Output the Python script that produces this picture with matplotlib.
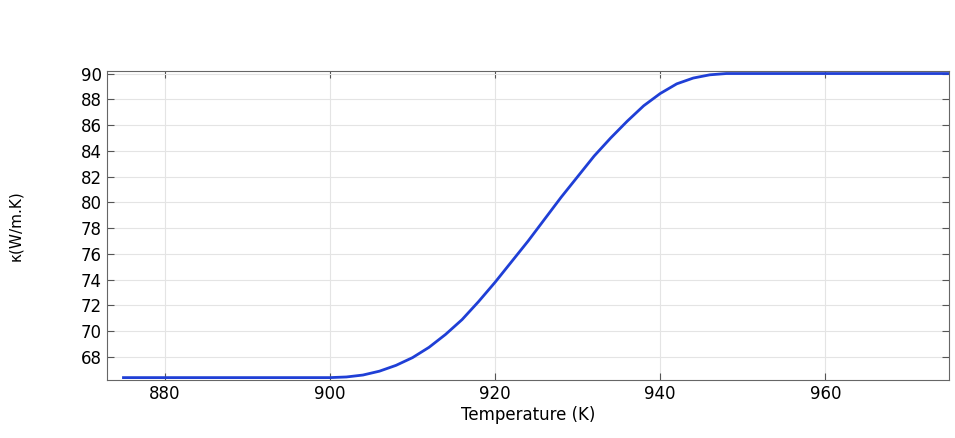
import matplotlib
matplotlib.use("Agg")
import matplotlib.pyplot as plt
import numpy as np

# values
temperature = [875, 900, 902, 904, 906, 908, 910, 912, 914, 916, 918, 920, 922, 924,
               926, 928, 930, 932, 934, 936, 938, 940, 942, 944, 946, 948, 950, 975]
kappa = [66.4, 66.4, 66.45, 66.6, 66.9, 67.35, 67.95, 68.75, 69.75, 70.9, 72.3, 73.8,
         75.4, 77.0, 78.7, 80.4, 82.0, 83.6, 85.0, 86.3, 87.5, 88.45, 89.2, 89.65,
         89.9, 90.0, 90.0, 90.0]
yticks = list(range(68, 91, 2))
xticks = [880, 900, 920, 940, 960]

fig = plt.figure(figsize=(9.55, 4.38), dpi=100)
ax = fig.add_axes([0.112, 0.132, 0.882, 0.706])
ax.plot(temperature, kappa, color="#1f3fd6", linewidth=2)

ax.set_xlim(873, 975)
ax.set_ylim(66.2, 90.2)
ax.set_xticks(xticks)
ax.set_yticks(yticks)
ax.grid(True, color="#e4e4e4", linewidth=0.8)
ax.tick_params(direction="in", top=True, right=True, labelsize=12, length=5, color="#555555")
for s in ax.spines.values():
    s.set_color("#666666")
ax.set_xlabel("Temperature (K)", fontsize=12, labelpad=2)
fig.text(0.016, 0.485, "κ(W/m.K)", rotation=90, fontsize=11, va="center", ha="center")

fig.savefig("out.png", dpi=100)
